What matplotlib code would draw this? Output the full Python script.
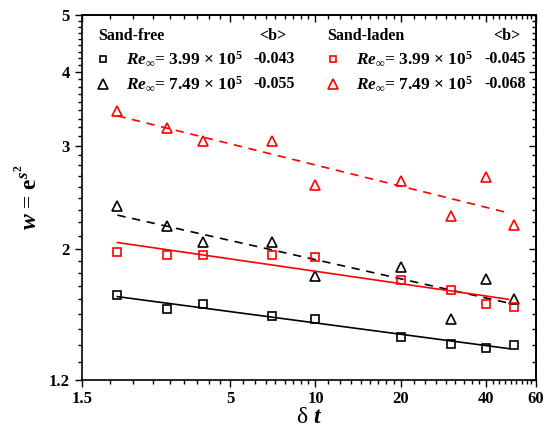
import numpy as np
import matplotlib
matplotlib.use("Agg")
import matplotlib.pyplot as plt
from matplotlib.ticker import FixedLocator, FixedFormatter, NullFormatter

plt.rcParams["font.family"] = ["Liberation Serif", "DejaVu Serif"]
plt.rcParams["font.weight"] = "bold"
plt.rcParams["mathtext.fontset"] = "custom"
plt.rcParams["mathtext.rm"] = "Liberation Serif:bold"
plt.rcParams["mathtext.bf"] = "Liberation Serif:bold"
plt.rcParams["mathtext.it"] = "Liberation Serif:italic:bold"
plt.rcParams["mathtext.bfit"] = "Liberation Serif:italic:bold"

# delta t values and w for each case
dt = [2, 3, 4, 7, 10, 20, 30, 40, 50]
free_399 = [1.67, 1.584, 1.613, 1.541, 1.521, 1.421, 1.380, 1.362, 1.376]
free_749 = [2.37, 2.19, 2.06, 2.06, 1.80, 1.865, 1.521, 1.78, 1.65]
laden_399 = [1.977, 1.958, 1.958, 1.958, 1.941, 1.776, 1.708, 1.613, 1.599]
laden_749 = [3.43, 3.22, 3.05, 3.05, 2.57, 2.61, 2.28, 2.65, 2.20]

b_values = ["-0.043", "-0.055", "-0.045", "-0.068"]
re_labels = [r"$Re_{\infty}$= 3.99 $\times$ 10$^{5}$", r"$Re_{\infty}$= 7.49 $\times$ 10$^{5}$"]

x_major = [1.5, 5, 10, 20, 40, 60]
y_major = [1.2, 2, 3, 4, 5]


def minor_ticks(major, n=8):
    out = []
    for a, b in zip(major[:-1], major[1:]):
        out.extend(np.linspace(a, b, n + 2)[1:-1])
    return out


W, H = 549, 438
fig = plt.figure(figsize=(W / 100, H / 100), dpi=100)
ax = fig.add_axes([82 / W, 1 - 380 / H, (536 - 82) / W, (380 - 15) / H])
ax.set_xscale("log")
ax.set_yscale("log")

series = [
    (free_399, "k", "s", "-"),
    (free_749, "k", "^", "--"),
    (laden_399, "red", "s", "-"),
    (laden_749, "red", "^", "--"),
]
x = np.array(dt, dtype=float)
for vals, color, marker, ls in series:
    y = np.array(vals)
    ms = 5.5 if marker == "s" else 7
    ax.plot(x, y, ls="none", marker=marker, ms=ms, mfc="none", mec=color, mew=1.2)
    slope, icpt = np.polyfit(np.log10(x), np.log10(y), 1)
    xf = np.geomspace(x[0], x[-1] * 0.96, 50)
    ax.plot(xf, 10 ** icpt * xf ** slope, color=color, ls=ls, lw=1.2,
            dashes=(5, 4) if ls == "--" else (None, None))

ax.set_xlim(1.5, 60)
ax.set_ylim(1.2, 5)
ax.xaxis.set_major_locator(FixedLocator(x_major))
ax.xaxis.set_major_formatter(FixedFormatter([str(v) for v in x_major]))
ax.xaxis.set_minor_locator(FixedLocator(minor_ticks(x_major)))
ax.xaxis.set_minor_formatter(NullFormatter())
ax.yaxis.set_major_locator(FixedLocator(y_major))
ax.yaxis.set_major_formatter(FixedFormatter([str(v) for v in y_major]))
ax.yaxis.set_minor_locator(FixedLocator(minor_ticks(y_major)))
ax.yaxis.set_minor_formatter(NullFormatter())

for side in ax.spines.values():
    side.set_linewidth(1.2)
ax.tick_params(which="both", direction="out", width=1.0, labelsize=12)
ax.tick_params(which="major", length=5, pad=3)
ax.tick_params(which="minor", length=3)
ax.tick_params(which="major", axis="y", pad=4)

# inward ticks on top and right
axt = ax.secondary_xaxis("top")
axt.set_xticks(x_major)
axt.xaxis.set_minor_locator(FixedLocator(minor_ticks(x_major)))
axt.tick_params(which="both", direction="in", labeltop=False, width=1.0)
axt.tick_params(which="major", length=5)
axt.tick_params(which="minor", length=3)
axr = ax.secondary_yaxis("right")
axr.set_yticks(y_major)
axr.yaxis.set_minor_locator(FixedLocator(minor_ticks(y_major)))
axr.tick_params(which="both", direction="in", labelright=False, width=1.0)
axr.tick_params(which="major", length=5)
axr.tick_params(which="minor", length=3)
for sp in axt.spines.values():
    sp.set_linewidth(1.2)
for sp in axr.spines.values():
    sp.set_linewidth(1.2)

ax.set_xlabel(r"δ $\mathbfit{t}$", fontsize=17, labelpad=0)
ax.set_ylabel(r"$\mathbfit{w}$ = $\mathbf{e}^{\mathbfit{s}^{2}}$", fontsize=17, labelpad=5)

# legend block drawn by hand
def fx(px):
    return px / W


def fy(py):
    return 1 - py / H


fs = 11.5
fig.text(fx(98), fy(36), "Sand-free", fontsize=fs, va="center", ha="left")
fig.text(fx(273), fy(36), "<b>", fontsize=fs, va="center", ha="center")
fig.text(fx(327), fy(36), "Sand-laden", fontsize=fs, va="center", ha="left")
fig.text(fx(507), fy(36), "<b>", fontsize=fs, va="center", ha="center")

rows_y = [59, 84]
for col, (mx, tx, bx, color) in enumerate([(103, 126, 253, "k"), (333, 356, 484, "red")]):
    for r, (marker, ms) in enumerate([("s", 5), ("^", 6.5)]):
        fig.lines.append(plt.Line2D([fx(mx)], [fy(rows_y[r])], transform=fig.transFigure,
                                    marker=marker, ms=ms, mfc="none", mec=color, mew=1.2, ls="none"))
        fig.text(fx(tx), fy(rows_y[r]), re_labels[r], fontsize=12.5, va="center", ha="left")
        fig.text(fx(bx), fy(rows_y[r]), b_values[col * 2 + r], fontsize=fs, va="center", ha="left")

fig.savefig("out.png", dpi=100)
